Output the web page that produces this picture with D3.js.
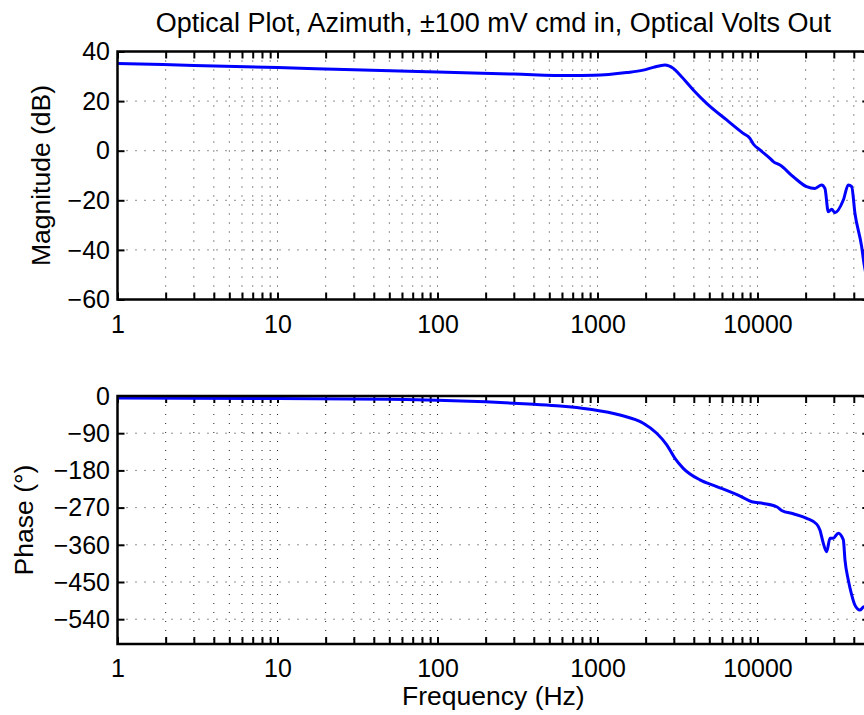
<!DOCTYPE html>
<html>
<head>
<meta charset="utf-8">
<script src="https://cdn.jsdelivr.net/npm/d3@7"></script>
<style>
body{margin:0;background:#fff;}
svg{display:block;font-family:"Liberation Sans",Arial,Helvetica,sans-serif;}
</style>
</head>
<body>
<div id="chart"></div>
<script>
// data
const title="Optical Plot, Azimuth, \u00b1100 mV cmd in, Optical Volts Out";
const freqMag=[1,3,10,30,100,300,673,942,1521,1933,2234,2640,2980,3280,3970,4810,6420,8150,8970,9420,10370,11970,12560,13830,16740,20300,22870,25180,26400,27700,29100,30500,34400,36950,38800,40660,44800,46300,50000];
const magDb=[35.2,34.4,33.5,32.6,31.7,30.9,30.3,30.4,31.5,32.5,33.6,34.6,33.2,30.5,24.5,19.1,12.4,7.0,5.0,2.7,0.3,-3.1,-4.4,-5.8,-10.5,-14.5,-15.2,-13.8,-15.2,-24.6,-23.6,-25,-19.9,-13.8,-14.5,-25.2,-38.7,-45.4,-55];
const freqPh=[1,10,50,100,200,400,583,897,1382,1933,2345,2710,3050,3437,4370,5560,7960,9200,10870,13180,14160,16740,20300,23440,24560,25780,27060,28390,29780,32000,34400,35240,36950,38800,40660,43650,46300,50000];
const phaseDeg=[-5,-6,-8,-10,-14,-20,-24,-32,-46,-66,-90,-118,-151,-175,-203,-219,-244,-256,-260,-268,-277,-285,-296,-310,-324,-356,-377,-344,-344,-332,-348,-397,-445,-481,-506,-518,-510,-515];
const magTicks=[-60,-40,-20,0,20,40];
const phaseTicks=[-540,-450,-360,-270,-180,-90,0];
const freqLabels=[1,10,100,1000,10000];
const freqDomain=[1,50000];
const magDomain=[-60,40];
const phaseDomain=[-600,0];

const W=864,H=715;
const left=117.5,right=869.3;
const fs=25;

const svg=d3.select("#chart").append("svg").attr("width",W).attr("height",H);

const x=d3.scaleLog().domain(freqDomain).range([left,right]);
const minus=s=>String(s).replace("-","\u2212");

function panel(top,bottom,domain,yticks,xs,ys,ylabel,ylabelX){
  const y=d3.scaleLinear().domain(domain).range([bottom,top]);
  const g=svg.append("g");
  const xt=x.ticks();
  // dotted grid
  g.append("g").selectAll("line").data(xt.filter(d=>d>freqDomain[0]&&d<freqDomain[1])).join("line")
    .attr("x1",d=>x(d)).attr("x2",d=>x(d)).attr("y1",top).attr("y2",bottom)
    .attr("stroke","#222").attr("stroke-width",1).attr("stroke-dasharray","1,8");
  g.append("g").selectAll("line").data(yticks.filter(d=>d>domain[0]&&d<domain[1])).join("line")
    .attr("x1",left).attr("x2",right).attr("y1",d=>y(d)).attr("y2",d=>y(d))
    .attr("stroke","#222").attr("stroke-width",1).attr("stroke-dasharray","1,8");
  // axes, ticks pointing inward
  const ab=g.append("g").attr("transform","translate(0,"+bottom+")")
    .call(d3.axisBottom(x).tickValues(xt).tickSize(-7).tickSizeOuter(0)
      .tickFormat(d=>freqLabels.includes(d)?d3.format("d")(d):""));
  const at=g.append("g").attr("transform","translate(0,"+top+")")
    .call(d3.axisTop(x).tickValues(xt).tickSize(-7).tickSizeOuter(0).tickFormat(""));
  const al=g.append("g").attr("transform","translate("+left+",0)")
    .call(d3.axisLeft(y).tickValues(yticks).tickSize(-7).tickSizeOuter(0).tickFormat(minus));
  const ar=g.append("g").attr("transform","translate("+right+",0)")
    .call(d3.axisRight(y).tickValues(yticks).tickSize(-7).tickSizeOuter(0).tickFormat(""));
  [ab,at,al,ar].forEach(a=>{
    a.select(".domain").remove();
    a.selectAll(".tick line").attr("stroke","#000").attr("stroke-width",2);
  });
  ab.selectAll(".tick text").attr("y",33).attr("dy",0).attr("font-size",fs).attr("fill","#000").attr("font-family",null);
  al.selectAll(".tick text").attr("x",-7.5).attr("dy","0.33em").attr("font-size",fs).attr("fill","#000").attr("font-family",null);
  // the curve
  g.append("path").datum(d3.zip(xs,ys))
    .attr("d",d3.line().x(d=>x(d[0])).y(d=>y(d[1])).curve(d3.curveMonotoneX))
    .attr("fill","none").attr("stroke","#0000ff").attr("stroke-width",3).attr("stroke-linejoin","round");
  // frame
  g.append("rect").attr("x",left).attr("y",top).attr("width",right-left).attr("height",bottom-top)
    .attr("fill","none").attr("stroke","#000").attr("stroke-width",2.5);
  svg.append("text").attr("transform","translate("+ylabelX+","+((top+bottom)/2)+") rotate(-90)")
    .attr("text-anchor","middle").attr("font-size",26.5).text(ylabel);
}

panel(51.5,299.5,magDomain,magTicks,freqMag,magDb,"Magnitude (dB)",50);
panel(396,644,phaseDomain,phaseTicks,freqPh,phaseDeg,"Phase (\u00b0)",33);

svg.append("text").attr("x",(left+right)/2).attr("y",31.5).attr("text-anchor","middle")
  .attr("font-size",27).text(title);
svg.append("text").attr("x",(left+right)/2).attr("y",705).attr("text-anchor","middle")
  .attr("font-size",26.5).text("Frequency (Hz)");
</script>
</body>
</html>
